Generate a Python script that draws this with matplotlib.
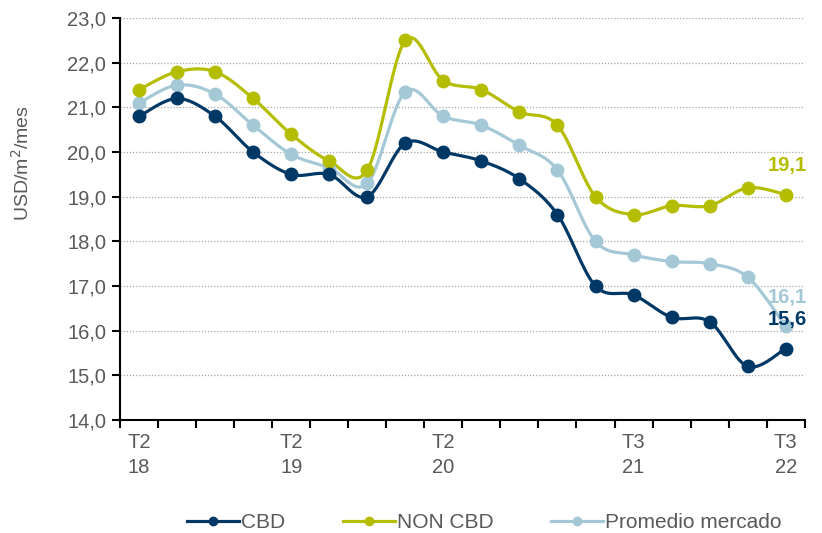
import numpy as np
import matplotlib
matplotlib.use('Agg')
import matplotlib.pyplot as plt
from matplotlib.lines import Line2D

plt.rcParams['font.family'] = ['Liberation Sans', 'DejaVu Sans']

# ── Data ───────────────────────────────────────────────────────────────────
QUARTERS = ['T2 18', 'T3 18', 'T4 18', 'T1 19', 'T2 19', 'T3 19', 'T4 19', 'T1 20',
            'T2 20', 'T3 20', 'T4 20', 'T1 21', 'T2 21', 'T3 21', 'T4 21', 'T1 22',
            'T2 22', 'T3 22']
CBD = [20.8, 21.2, 20.8, 20.0, 19.5, 19.5, 19.0, 20.2, 20.0, 19.8, 19.4, 18.6,
       17.0, 16.8, 16.3, 16.2, 15.2, 15.6]
NON_CBD = [21.4, 21.8, 21.8, 21.2, 20.4, 19.8, 19.6, 22.5, 21.6, 21.4, 20.9, 20.6,
           19.0, 18.6, 18.8, 18.8, 19.2, 19.05]
PROMEDIO = [21.1, 21.5, 21.3, 20.6, 19.95, 19.65, 19.3, 21.35, 20.8, 20.6, 20.15, 19.6,
            18.0, 17.7, 17.55, 17.5, 17.2, 16.1]
LAST_LABELS = {'CBD': '15,6', 'NON CBD': '19,1', 'Promedio mercado': '16,1'}
TICK_IDX = [0, 4, 8, 13, 17]
TICK_LABELS = ['T2\n18', 'T2\n19', 'T2\n20', 'T3\n21', 'T3\n22']

COLORS = {'CBD': '#003865', 'NON CBD': '#B5BD00', 'Promedio mercado': '#A5C8D7'}
GREY = '#595959'


def smooth(y, n=30):
    """Catmull-Rom style smoothing (like Excel's smoothed line)."""
    x = np.arange(len(y), dtype=float)
    y = np.asarray(y, dtype=float)
    px = np.concatenate([[x[0]], x, [x[-1]]])
    py = np.concatenate([[y[0]], y, [y[-1]]])
    xs, ys = [], []
    t = np.linspace(0, 1, n)
    for i in range(len(y) - 1):
        p0 = np.array([px[i + 1], py[i + 1]])
        p3 = np.array([px[i + 2], py[i + 2]])
        c1 = p0 + (np.array([px[i + 2], py[i + 2]]) - np.array([px[i], py[i]])) / 6
        c2 = p3 - (np.array([px[i + 3], py[i + 3]]) - np.array([px[i + 1], py[i + 1]])) / 6
        b = ((1 - t) ** 3)[:, None] * p0 + (3 * (1 - t) ** 2 * t)[:, None] * c1 \
            + (3 * (1 - t) * t ** 2)[:, None] * c2 + (t ** 3)[:, None] * p3
        xs.extend(b[:, 0])
        ys.extend(b[:, 1])
    return np.array(xs), np.array(ys)


fig = plt.figure(figsize=(8.22, 5.33), dpi=100)
ax = fig.add_axes([0.146, 0.212, 0.833, 0.754])

x = np.arange(len(QUARTERS))
series = [('Promedio mercado', PROMEDIO), ('NON CBD', NON_CBD), ('CBD', CBD)]
for name, vals in series:
    sx, sy = smooth(vals)
    ax.plot(sx, sy, color=COLORS[name], lw=2.3, zorder=3, solid_capstyle='round')
    ax.plot(x, vals, 'o', color=COLORS[name], ms=9, zorder=4)

# last-point labels
for name, vals in series:
    ax.annotate(LAST_LABELS[name], (x[-1], vals[-1]), xytext=(1, 21),
                textcoords='offset points', ha='center', va='center',
                color=COLORS[name], fontsize=14.5, fontweight='bold', zorder=5)

ax.set_xlim(-0.5, len(QUARTERS) - 0.5)
ax.set_ylim(14, 23)
ax.set_yticks(np.arange(14, 23.1, 1))
ax.set_yticklabels([f'{v:.1f}'.replace('.', ',') for v in np.arange(14, 23.1, 1)])
ax.set_xticks([x[i] for i in TICK_IDX])
ax.set_xticklabels(TICK_LABELS, linespacing=1.45)
ax.set_xticks(np.arange(-0.5, len(QUARTERS)), minor=True)

ax.tick_params(axis='x', which='major', length=0, pad=9, labelsize=14.5, labelcolor=GREY)
ax.tick_params(axis='x', which='minor', length=6, width=1.5, direction='out')
ax.tick_params(axis='y', length=6, width=1.5, labelsize=14.5, labelcolor=GREY, pad=4)

for sp in ['top', 'right']:
    ax.spines[sp].set_visible(False)
for sp in ['left', 'bottom']:
    ax.spines[sp].set_linewidth(1.5)

ax.grid(axis='y', color='#A6A6A6', linestyle=(0, (1, 1.5)), lw=0.9)
ax.set_axisbelow(True)
ax.set_ylabel('USD/m$^2$/mes', fontsize=14, color=GREY)
ax.yaxis.set_label_coords(-0.128, 0.64)

handles = [Line2D([], [], color=COLORS[n], lw=2.3, marker='o', ms=6)
           for n in ['CBD', 'NON CBD', 'Promedio mercado']]
fig.legend(handles, ['CBD', 'NON CBD', 'Promedio mercado'], loc='center',
           bbox_to_anchor=(0.589, 0.02), ncol=3, frameon=False, fontsize=15,
           handlelength=2.5, handletextpad=0.1, columnspacing=2.75,
           labelcolor=GREY)

fig.savefig('out.png', dpi=100)
